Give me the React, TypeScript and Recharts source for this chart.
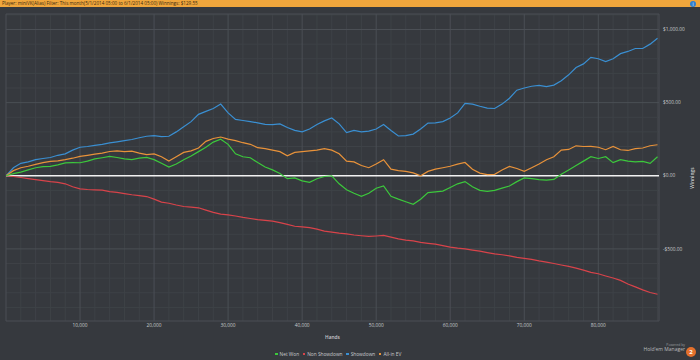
import React from 'react';
import { LineChart, Line, XAxis, YAxis, ReferenceLine } from 'recharts';

// hands played, one sample every 1,000 hands
const HANDS = [
  0, 1000, 2000, 3000, 4000, 5000, 6000, 7000, 8000, 9000,
  10000, 11000, 12000, 13000, 14000, 15000, 16000, 17000, 18000, 19000,
  20000, 21000, 22000, 23000, 24000, 25000, 26000, 27000, 28000, 29000,
  30000, 31000, 32000, 33000, 34000, 35000, 36000, 37000, 38000, 39000,
  40000, 41000, 42000, 43000, 44000, 45000, 46000, 47000, 48000, 49000,
  50000, 51000, 52000, 53000, 54000, 55000, 56000, 57000, 58000, 59000,
  60000, 61000, 62000, 63000, 64000, 65000, 66000, 67000, 68000, 69000,
  70000, 71000, 72000, 73000, 74000, 75000, 76000, 77000, 78000, 79000,
  80000, 81000, 82000, 83000, 84000, 85000, 86000, 87000, 88000,
];

const NET_WON = [
  0, 15, 25, 40, 55, 62, 64, 75, 88, 90,
  89, 100, 115, 123, 132, 125, 115, 110, 120, 125,
  110, 85, 60, 80, 110, 135, 165, 195, 230, 250,
  215, 150, 130, 123, 90, 60, 40, 15, -20, -15,
  -35, -45, -20, -5, 0, -55, -96, -120, -140, -120,
  -85, -70, -140, -160, -178, -195, -160, -115, -110, -105,
  -80, -55, -40, -75, -100, -107, -100, -85, -70, -40,
  -15, -20, -27, -30, -25, 10, 40, 70, 100, 130,
  118, 130, 90, 110, 100, 95, 98, 85, 130,
];

const NON_SHOWDOWN = [
  0, -5, -12, -20, -27, -33, -40, -45, -55, -75,
  -90, -94, -96, -98, -108, -114, -122, -130, -136, -142,
  -160, -180, -188, -200, -210, -215, -219, -235, -250, -262,
  -268, -275, -285, -292, -300, -305, -310, -320, -332, -345,
  -350, -355, -365, -378, -385, -392, -397, -405, -410, -415,
  -412, -408, -420, -432, -440, -445, -455, -462, -468, -478,
  -488, -495, -500, -508, -515, -525, -534, -540, -548, -558,
  -565, -572, -582, -590, -600, -610, -620, -632, -645, -660,
  -670, -685, -699, -715, -740, -760, -780, -798, -810,
];

const SHOWDOWN = [
  0, 55, 85, 95, 110, 118, 125, 140, 150, 175,
  195, 200, 208, 215, 225, 232, 240, 248, 260, 270,
  275, 268, 270, 300, 335, 370, 420, 440, 460, 490,
  430, 385, 378, 370, 362, 352, 350, 355, 330, 310,
  300, 320, 350, 375, 395, 355, 295, 310, 300, 305,
  320, 350, 310, 272, 275, 285, 320, 360, 362, 370,
  395, 430, 495, 490, 475, 462, 460, 490, 530, 585,
  600, 612, 618, 610, 620, 650, 690, 740, 765, 810,
  800, 780, 800, 835, 850, 870, 870, 900, 940,
];

const ALL_IN_EV = [
  0, 35, 55, 65, 78, 90, 98, 102, 110, 120,
  132, 140, 148, 155, 166, 170, 165, 168, 155, 145,
  150, 130, 100, 130, 160, 170, 190, 235, 255, 265,
  250, 240, 226, 215, 192, 185, 175, 165, 137, 160,
  165, 170, 175, 185, 175, 150, 100, 95, 70, 55,
  80, 110, 45, 35, 30, 20, 0, 30, 45, 55,
  65, 80, 91, 45, 18, 8, 10, 40, 64, 50,
  30, 55, 80, 110, 130, 175, 180, 205, 200, 201,
  195, 178, 200, 178, 173, 185, 190, 205, 212,
];

const X_TICKS = [10000, 20000, 30000, 40000, 50000, 60000, 70000, 80000];
const Y_TICKS = [-500, 0, 500, 1000];
const X_MINOR = [
  2000, 4000, 6000, 8000, 12000, 14000, 16000, 18000, 22000, 24000, 26000, 28000,
  32000, 34000, 36000, 38000, 42000, 44000, 46000, 48000, 52000, 54000, 56000, 58000,
  62000, 64000, 66000, 68000, 72000, 74000, 76000, 78000, 82000, 84000, 86000, 88000,
];
const Y_MINOR = [-900, -800, -700, -600, -400, -300, -200, -100, 100, 200, 300, 400, 600, 700, 800, 900, 1100];

const X_MAX = 88200;
const Y_MIN = -993;
const Y_MAX = 1106;

const data = HANDS.map((h, i) => ({
  hands: h,
  netWon: NET_WON[i],
  nonShowdown: NON_SHOWDOWN[i],
  showdown: SHOWDOWN[i],
  allInEv: ALL_IN_EV[i],
}));

const FONT = '"Open Sans", "Noto Sans", sans-serif';
const BG = '#36393e';
const MINOR = '#3e4247';
const MAJOR = '#4b4f55';
const TEXT = '#c9cbcd';

const fmtHands = (v: number) => v.toLocaleString('en-US');
const fmtMoney = (v: number) =>
  (v < 0 ? '-$' : '$') +
  Math.abs(v).toLocaleString('en-US', { minimumFractionDigits: 2, maximumFractionDigits: 2 });

const legendItems = [
  { label: 'Net Won', color: '#3cc83c' },
  { label: 'Non Showdown', color: '#d8434a' },
  { label: 'Showdown', color: '#3a8fd2' },
  { label: 'All-in EV', color: '#e8923a' },
];

export default function App() {
  return (
    <div
      style={{
        position: 'fixed',
        left: 0,
        top: 0,
        width: 700,
        height: 360,
        background: BG,
        fontFamily: FONT,
        overflow: 'hidden',
      }}
    >
      <div
        style={{
          position: 'absolute',
          left: 0,
          top: 0,
          width: 700,
          height: 7,
          background: '#f0a63c',
          color: '#3a2a10',
          fontSize: 4.6,
          lineHeight: '7px',
          paddingLeft: 2,
          boxSizing: 'border-box',
          whiteSpace: 'nowrap',
        }}
      >
        Player: miniVK(Alias) Filter: This month(5/1/2014 05:00 to 6/1/2014 05:00) Winnings: $129.55
        <div
          style={{
            position: 'absolute',
            right: 4,
            top: 0.5,
            width: 6,
            height: 6,
            borderRadius: 3,
            background: '#2f7fd0',
            color: '#fff',
            fontSize: 4.5,
            lineHeight: '6px',
            textAlign: 'center',
          }}
        >
          i
        </div>
      </div>

      <div style={{ position: 'absolute', left: 0, top: 0 }}>
        <LineChart
          width={700}
          height={360}
          data={data}
          margin={{ top: 14, right: 0, bottom: 0, left: 6 }}
        >
          {X_MINOR.map((x) => (
            <ReferenceLine key={`xm${x}`} x={x} stroke={MINOR} strokeWidth={1} />
          ))}
          {Y_MINOR.map((y) => (
            <ReferenceLine key={`ym${y}`} y={y} stroke={MINOR} strokeWidth={1} />
          ))}
          {X_TICKS.map((x) => (
            <ReferenceLine key={`xM${x}`} x={x} stroke={MAJOR} strokeWidth={1} />
          ))}
          {Y_TICKS.filter((y) => y !== 0).map((y) => (
            <ReferenceLine key={`yM${y}`} y={y} stroke={MAJOR} strokeWidth={1} />
          ))}
          <ReferenceLine x={0} stroke={MAJOR} />
          <ReferenceLine x={X_MAX} stroke={MAJOR} />
          <ReferenceLine y={Y_MIN} stroke={MAJOR} />
          <ReferenceLine y={Y_MAX} stroke={MAJOR} />
          <XAxis
            dataKey="hands"
            type="number"
            domain={[0, X_MAX]}
            ticks={X_TICKS}
            tickFormatter={fmtHands}
            height={39}
            axisLine={false}
            tickLine={false}
            tickSize={0}
            tickMargin={3}
            tick={{ fontSize: 4.8, fill: TEXT, fontFamily: FONT }}
            label={{ value: 'Hands', position: 'insideBottom', offset: 21, fill: TEXT, fontSize: 4.8, fontFamily: FONT, fontWeight: 600 }}
            allowDataOverflow
          />
          <YAxis
            orientation="right"
            type="number"
            domain={[Y_MIN, Y_MAX]}
            ticks={Y_TICKS}
            tickFormatter={fmtMoney}
            width={41}
            axisLine={false}
            tickLine={false}
            tickSize={0}
            tickMargin={4}
            tick={{ fontSize: 4.8, fill: TEXT, fontFamily: FONT }}
            label={{ value: 'Winnings', angle: -90, position: 'insideRight', offset: 8, fill: TEXT, fontSize: 4.8, fontFamily: FONT, fontWeight: 600 }}
            allowDataOverflow
          />
          <ReferenceLine y={0} stroke="#f2f2f2" strokeWidth={1.5} />
          <Line dataKey="nonShowdown" stroke="#d8434a" strokeWidth={1.2} dot={false} type="linear" isAnimationActive={false} />
          <Line dataKey="showdown" stroke="#3a8fd2" strokeWidth={1.2} dot={false} type="linear" isAnimationActive={false} />
          <Line dataKey="allInEv" stroke="#e8923a" strokeWidth={1.2} dot={false} type="linear" isAnimationActive={false} />
          <Line dataKey="netWon" stroke="#3cc83c" strokeWidth={1.2} dot={false} type="linear" isAnimationActive={false} />
        </LineChart>
      </div>

      <div
        style={{
          position: 'absolute',
          left: 275,
          top: 351,
          display: 'flex',
          alignItems: 'center',
          fontSize: 4.8,
          color: TEXT,
          whiteSpace: 'nowrap',
        }}
      >
        {legendItems.map((it) => (
          <span key={it.label} style={{ display: 'flex', alignItems: 'center', marginRight: 3.5 }}>
            <span style={{ width: 2.6, height: 2.6, background: it.color, marginRight: 2, display: 'inline-block' }} />
            {it.label}
          </span>
        ))}
      </div>

      <div
        style={{
          position: 'absolute',
          left: 630,
          top: 343,
          width: 55,
          textAlign: 'right',
          color: '#9a9c9f',
          lineHeight: 1.1,
        }}
      >
        <div style={{ fontSize: 3.4 }}>Powered by</div>
        <div style={{ fontSize: 5, color: '#b8babc' }}>Hold'em Manager</div>
      </div>
      <div
        style={{
          position: 'absolute',
          left: 686,
          top: 347,
          width: 10,
          height: 10,
          borderRadius: 5,
          background: '#e4702c',
          color: '#fff',
          fontSize: 6,
          fontWeight: 700,
          lineHeight: '10px',
          textAlign: 'center',
        }}
      >
        2
      </div>
    </div>
  );
}
